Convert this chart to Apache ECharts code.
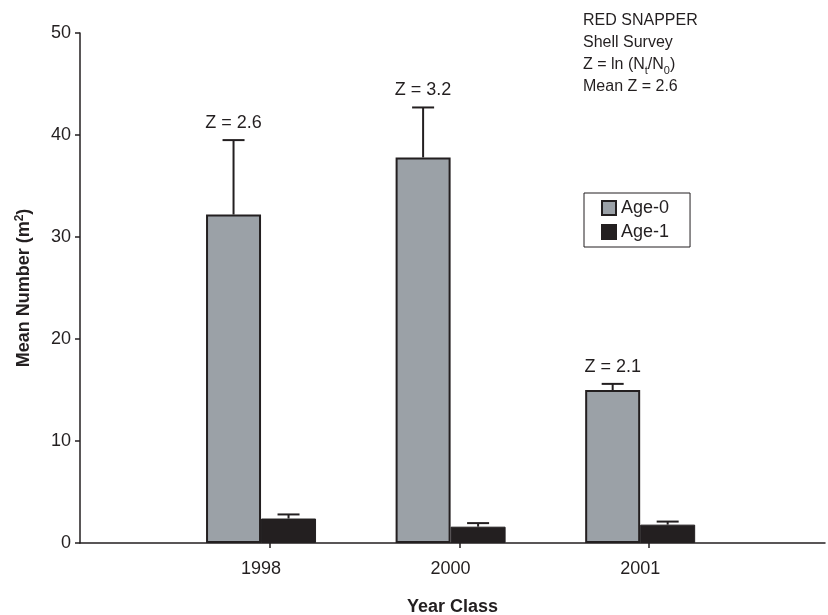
<!DOCTYPE html>
<html style="height: 100%">
<head>
    <meta charset="utf-8">
    <title>Red snapper shell survey</title>
    <script type="text/javascript" src="https://cdn.jsdelivr.net/npm/echarts@6/dist/echarts.min.js"></script>
</head>
<body style="width: 100%;margin: 0;height: 100%">
<div id="container" style="width: 828px;height: 615px"></div>

<script type="application/javascript">

    // year classes and survey means
    var years = ['1998', '2000', '2001'];
    var age0 = [32.2, 37.8, 15.0];
    var age0Upper = [39.5, 42.7, 15.6];
    var age1 = [2.4, 1.6, 1.8];
    var age1Upper = [2.8, 1.95, 2.1];
    var zLabels = ['Z = 2.6', 'Z = 3.2', 'Z = 2.1'];
    var yTicks = [0, 10, 20, 30, 40, 50];

    var ink = '#231f20';
    var grey = '#9ba1a7';
    var font = 'Liberation Sans, Arial, sans-serif';
    var barW = 55;
    var tickShift = 0.047; // the original's ticks sit a little right of the bar groups

    var xPos = [];
    for (var k = 0; k < years.length; k++) {
        xPos.push(k + 1);
    }

    function pairs(vals) {
        var out = [];
        for (var i = 0; i < vals.length; i++) {
            out.push([xPos[i], vals[i]]);
        }
        return out;
    }

    function errData(vals, upper, withLabel) {
        var out = [];
        for (var i = 0; i < vals.length; i++) {
            out.push([xPos[i], vals[i], upper[i], withLabel ? zLabels[i] : '']);
        }
        return out;
    }

    function errorBars(offset, capW) {
        return function (params, api) {
            var base = api.coord([api.value(0), api.value(1)]);
            var top = api.coord([api.value(0), api.value(2)]);
            var x = base[0] + offset;
            var children = [
                {type: 'line', shape: {x1: x, y1: base[1], x2: x, y2: top[1]}, style: {stroke: ink, lineWidth: 2}},
                {type: 'line', shape: {x1: x - capW / 2, y1: top[1], x2: x + capW / 2, y2: top[1]}, style: {stroke: ink, lineWidth: 2}}
            ];
            var txt = api.value(3);
            if (txt) {
                children.push({
                    type: 'text',
                    style: {
                        x: x, y: top[1] - 8, text: txt, align: 'center', verticalAlign: 'bottom',
                        fill: ink, font: '18px ' + font
                    }
                });
            }
            return {type: 'group', children: children};
        };
    }

    var dom = document.getElementById("container");
    var myChart = echarts.init(dom);

    var option = {
        animation: false,
        textStyle: {fontFamily: font, color: ink},
        grid: {left: 80, right: 3, top: 33, bottom: 72, containLabel: false, outerBoundsMode: 'none'},
        legend: {
            data: ['Age-0', 'Age-1'],
            orient: 'vertical',
            left: 584,
            top: 193,
            padding: [6, 21, 6, 17],
            borderColor: ink,
            borderWidth: 1,
            borderRadius: 0,
            icon: 'rect',
            itemWidth: 14,
            itemHeight: 14,
            itemGap: 6,
            textStyle: {fontSize: 18, color: ink, fontFamily: font}
        },
        graphic: [{
            type: 'text',
            left: 583,
            top: 10,
            style: {
                text: 'RED SNAPPER\nShell Survey\nZ = ln (N{sub|t}/N{sub|0})\nMean Z = 2.6',
                font: '16px ' + font,
                fill: ink,
                lineHeight: 22,
                rich: {
                    sub: {fontSize: 11, fontFamily: font, fill: ink, verticalAlign: 'bottom', lineHeight: 22, padding: [8, 0, 0, 0]}
                }
            }
        }],
        xAxis: [{
            type: 'value',
            min: 0.045,
            max: 3.975,
            name: 'Year Class',
            nameLocation: 'middle',
            nameGap: 55,
            nameTextStyle: {fontSize: 18, fontWeight: 'bold', color: ink},
            axisLine: {lineStyle: {color: ink, width: 1.5}},
            axisTick: {
                show: true,
                length: 5,
                lineStyle: {color: ink, width: 1.5},
                customValues: xPos.map(function (v) { return v + tickShift; })
            },
            axisLabel: {
                fontSize: 18, color: ink, margin: 17,
                customValues: xPos,
                formatter: function (v) {
                    return years[Math.round(v) - 1] || '';
                }
            },
            splitLine: {show: false}
        }],
        yAxis: {
            type: 'value',
            min: yTicks[0],
            max: yTicks[yTicks.length - 1],
            interval: 10,
            name: 'Mean Number (m{sup|2})',
            nameLocation: 'middle',
            nameGap: 46,
            nameTextStyle: {
                fontSize: 18, fontWeight: 'bold', color: ink,
                rich: {
                    sup: {fontSize: 12, fontWeight: 'bold', color: ink, verticalAlign: 'top', padding: [0, 0, 8, 0]}
                }
            },
            axisLine: {show: true, lineStyle: {color: ink, width: 1.5}},
            axisTick: {show: true, length: 5, lineStyle: {color: ink, width: 1.5}},
            axisLabel: {fontSize: 18, color: ink, margin: 9},
            splitLine: {show: false}
        },
        series: [
            {
                name: 'Age-0',
                type: 'bar',
                data: pairs(age0),
                barWidth: barW,
                barGap: '0%',
                itemStyle: {color: grey, borderColor: ink, borderWidth: 2}
            },
            {
                name: 'Age-1',
                type: 'bar',
                data: pairs(age1),
                barWidth: barW,
                barGap: '0%',
                itemStyle: {color: ink, borderColor: ink, borderWidth: 1}
            },
            {
                name: 'err0',
                type: 'custom',
                data: errData(age0, age0Upper, true),
                renderItem: errorBars(-barW / 2, 22),
                z: 3
            },
            {
                name: 'err1',
                type: 'custom',
                data: errData(age1, age1Upper, false),
                renderItem: errorBars(barW / 2, 22),
                z: 3
            }
        ]
    };

    myChart.setOption(option);
</script>

</body>
</html>
